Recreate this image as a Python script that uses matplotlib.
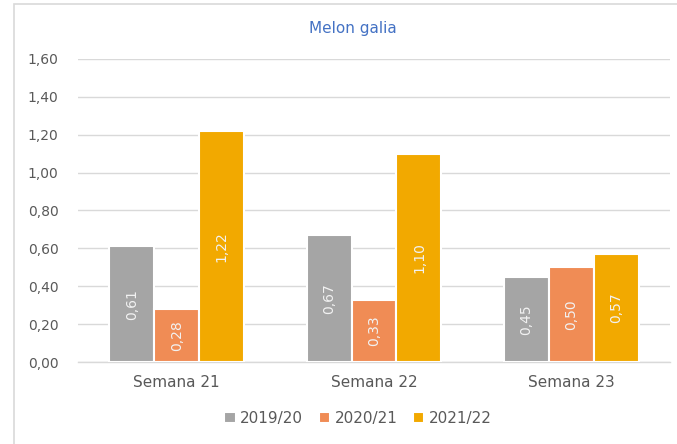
import matplotlib
matplotlib.use("Agg")
import matplotlib.pyplot as plt
from matplotlib.patches import Rectangle
import numpy as np

categories = ["Semana 21", "Semana 22", "Semana 23"]
series_names = ["2019/20", "2020/21", "2021/22"]
s2019 = [0.61, 0.67, 0.45]
s2020 = [0.28, 0.33, 0.50]
s2021 = [1.22, 1.10, 0.57]
colors = ["#A5A5A5", "#F08C55", "#F2A900"]
yticks = [0.0, 0.2, 0.4, 0.6, 0.8, 1.0, 1.2, 1.4, 1.6]

plt.rcParams['font.family'] = ['DejaVu Sans']

fig = plt.figure(figsize=(6.77, 4.44), dpi=100)
fig.patches.append(Rectangle((14/677, -0.01), 1.0, 1 - 4/444 + 0.01, transform=fig.transFigure,
                             facecolor='white', edgecolor='#D9D9D9', linewidth=1.2, zorder=-5))
ax = fig.add_axes([78/677, 1 - 362/444, (670 - 78)/677, (362 - 59)/444])
ax.set_zorder(2)
ax.set_facecolor('none')

x = np.arange(len(categories))
w = 0.228
for i, (vals, name, c) in enumerate(zip([s2019, s2020, s2021], series_names, colors)):
    pos = x + (i - 1) * w
    bars = ax.bar(pos, vals, width=w, color=c, edgecolor='white', linewidth=1.5, label=name, zorder=3)
    for p, v in zip(pos, vals):
        ax.text(p, v / 2, f"{v:.2f}".replace('.', ','), rotation=90, ha='center', va='center',
                color='#F2F2F2', fontsize=10, zorder=4)

ax.set_xlim(-0.5, 2.5)
ax.set_ylim(0, 1.6)
ax.set_yticks(yticks)
ax.set_yticklabels([f"{t:.2f}".replace('.', ',') for t in yticks])
ax.set_xticks(x)
ax.set_xticklabels(categories)
ax.grid(axis='y', color='#D9D9D9', linewidth=1.0, zorder=0)
ax.set_axisbelow(True)
for s in ['top', 'right', 'left']:
    ax.spines[s].set_visible(False)
ax.spines['bottom'].set_color('#D9D9D9')
ax.spines['bottom'].set_linewidth(1.0)
ax.tick_params(axis='y', length=0, colors='#595959', labelsize=10, pad=14)
ax.tick_params(axis='x', length=0, colors='#595959', labelsize=11, pad=9)

fig.text(353/677, 1 - 28/444, "Melon galia", ha='center', va='center', color='#4472C4', fontsize=11)

leg = ax.legend(loc='center', bbox_to_anchor=(358/677, 1 - 418/444), bbox_transform=fig.transFigure,
                ncol=3, frameon=False, fontsize=11, handlelength=0.75, handleheight=0.75,
                handletextpad=0.3, columnspacing=1.0)
for t in leg.get_texts():
    t.set_color('#595959')

fig.savefig("out.png", dpi=100)
